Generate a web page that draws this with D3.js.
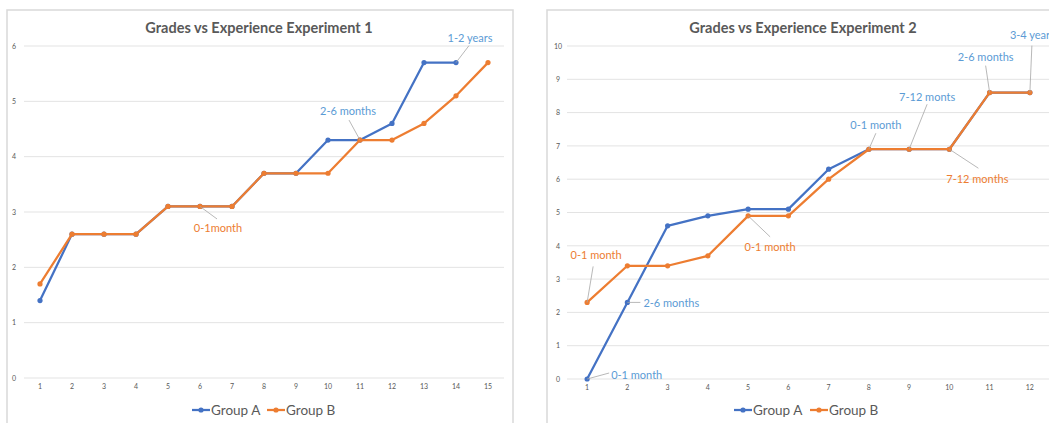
<!DOCTYPE html>
<html><head><meta charset="utf-8">
<script src="https://cdn.jsdelivr.net/npm/d3@7"></script>
<style>body{margin:0;background:#fff;}svg{display:block;font-family:Lato,"Open Sans",sans-serif;}</style>
</head><body><svg id="c" width="1049" height="423"></svg>
<script>
// ---- data ----
const categories1 = ["1","2","3","4","5","6","7","8","9","10","11","12","13","14","15"];
const groupA1 = [1.4,2.6,2.6,2.6,3.1,3.1,3.1,3.7,3.7,4.3,4.3,4.6,5.7,5.7,null];
const groupB1 = [1.7,2.6,2.6,2.6,3.1,3.1,3.1,3.7,3.7,3.7,4.3,4.3,4.6,5.1,5.7];
const yTicks1 = [0,1,2,3,4,5,6];
const title1 = "Grades vs Experience Experiment 1";

const categories2 = ["1","2","3","4","5","6","7","8","9","10","11","12"];
const groupA2 = [0,2.3,4.6,4.9,5.1,5.1,6.3,6.9,6.9,6.9,8.6,8.6];
const groupB2 = [2.3,3.4,3.4,3.7,4.9,4.9,6.0,6.9,6.9,6.9,8.6,8.6];
const yTicks2 = [0,1,2,3,4,5,6,7,8,9,10];
const title2 = "Grades vs Experience Experiment 2";

const seriesNames = ["Group A","Group B"];

// annotation labels: [series index, category index, text]
const labels1 = [[1,5,"0-1month"],[0,10,"2-6 months"],[0,13,"1-2 years"]];
const labels2 = [[0,0,"0-1 month"],[0,1,"2-6 months"],[1,0,"0-1 month"],[1,4,"0-1 month"],
                 [0,7,"0-1 month"],[0,8,"7-12 monts"],[1,9,"7-12 months"],[0,10,"2-6 months"],[0,11,"3-4 years"]];

// ---- layout / style (not data) ----
const labelLayout1 = [ // text dx,dy, anchor, leader end dx,dy
  {tx:18,ty:21.5,a:"middle",lx:17,ly:12.5},
  {tx:-12,ty:-30,a:"middle",lx:-11,ly:-20},
  {tx:14,ty:-25.6,a:"middle",lx:13,ly:-17}];
const labelLayout2 = [
  {tx:24,ty:-5,a:"start",lx:22,ly:-6},
  {tx:16,ty:0,a:"start",lx:13,ly:0},
  {tx:9,ty:-48,a:"middle",lx:6,ly:-36},
  {tx:22,ty:31,a:"middle",lx:22,ly:21},
  {tx:7,ty:-25,a:"middle",lx:7,ly:-16},
  {tx:18,ty:-53,a:"middle",lx:18,ly:-45},
  {tx:28,ty:29,a:"middle",lx:29,ly:19},
  {tx:-4,ty:-36,a:"middle",lx:-4,ly:-27},
  {tx:-20,ty:-58,a:"start",lx:2,ly:-47}];

const lineColors = ["#4472C4","#ED7D31"];
const labelColors = ["#5B9BD5","#ED7D31"];
const svg = d3.select("#c");

function drawChart(o){
  const g = svg.append("g");
  // frame
  g.append("rect").attr("x",o.frame[0]).attr("y",o.frame[1]).attr("width",o.frame[2]).attr("height",o.frame[3])
    .attr("fill","#fff").attr("stroke","#D9D9D9").attr("stroke-width",1.5);
  const x = d3.scaleBand().domain(o.cats).range([o.plot.left,o.plot.right]);
  const y = d3.scaleLinear().domain([0,d3.max(o.yTicks)]).range([o.plot.bottom,o.plot.top]);
  // gridlines
  g.append("g").selectAll("line").data(o.yTicks).join("line")
    .attr("x1",o.plot.left).attr("x2",o.plot.right).attr("y1",d=>y(d)).attr("y2",d=>y(d))
    .attr("stroke","#E3E3E3").attr("stroke-width",1);
  // y axis labels
  const ya = d3.axisLeft(y).tickValues(o.yTicks).tickFormat(d3.format("d")).tickSize(0).tickPadding(0);
  const yg = g.append("g").attr("transform",`translate(${o.yLabelX},0)`).call(ya);
  yg.select(".domain").remove();
  yg.selectAll("text").attr("font-size",7).attr("fill","#595959").attr("text-anchor","middle").attr("font-family","Lato,sans-serif");
  // x axis labels
  const xa = d3.axisBottom(x).tickSize(0).tickPadding(6);
  const xg = g.append("g").attr("transform",`translate(0,${o.plot.bottom})`).call(xa);
  xg.select(".domain").remove();
  xg.selectAll("text").attr("font-size",7).attr("fill","#595959").attr("font-family","Lato,sans-serif");
  // title
  g.append("text").attr("x",o.titleX).attr("y",27).attr("text-anchor","middle").attr("dominant-baseline","central")
    .attr("font-size",14.5).attr("font-weight","bold").attr("fill","#595959").text(o.title);
  const cx = i => x(o.cats[i]) + x.bandwidth()/2;
  const line = d3.line().defined(d=>d!=null).x((d,i)=>cx(i)).y(d=>y(d));
  o.series.forEach((s,k)=>{
    g.append("path").datum(s).attr("d",line).attr("fill","none").attr("stroke",lineColors[k])
      .attr("stroke-width",2.25).attr("stroke-linejoin","round");
    g.append("g").selectAll("circle").data(s.map((v,i)=>[v,i]).filter(d=>d[0]!=null)).join("circle")
      .attr("cx",d=>cx(d[1])).attr("cy",d=>y(d[0])).attr("r",2.6).attr("fill",lineColors[k]);
  });
  // labels
  o.labels.forEach((l,j)=>{
    const [si,ci,t] = l; const L = o.layout[j];
    const px = cx(ci), py = y(o.series[si][ci]);
    g.append("line").attr("x1",px).attr("y1",py).attr("x2",px+L.lx).attr("y2",py+L.ly)
      .attr("stroke","#A6A6A6").attr("stroke-width",0.8);
    g.append("text").attr("x",px+L.tx).attr("y",py+L.ty).attr("text-anchor",L.a).attr("dominant-baseline","central")
      .attr("font-size",11).attr("fill",labelColors[si]).text(t);
  });
  // legend
  const lg = g.append("g");
  seriesNames.forEach((n,k)=>{
    const lx = o.legendX[k];
    lg.append("line").attr("x1",lx).attr("x2",lx+18).attr("y1",410).attr("y2",410).attr("stroke",lineColors[k]).attr("stroke-width",2.25);
    lg.append("circle").attr("cx",lx+9).attr("cy",410).attr("r",2.6).attr("fill",lineColors[k]);
    lg.append("text").attr("x",lx+19).attr("y",410).attr("dominant-baseline","central").attr("font-size",13.5)
      .attr("fill","#595959").text(n);
  });
}

drawChart({frame:[7,10,506,425], plot:{left:24,right:504,top:46,bottom:378}, yLabelX:14, titleX:259,
  cats:categories1, series:[groupA1,groupB1], yTicks:yTicks1, title:title1, labels:labels1, layout:labelLayout1, legendX:[192,267]});
drawChart({frame:[547,10,520,425], plot:{left:567,right:1050,top:46,bottom:379}, yLabelX:558, titleX:803,
  cats:categories2, series:[groupA2,groupB2], yTicks:yTicks2, title:title2, labels:labels2, layout:labelLayout2, legendX:[734,810]});
</script></body></html>
